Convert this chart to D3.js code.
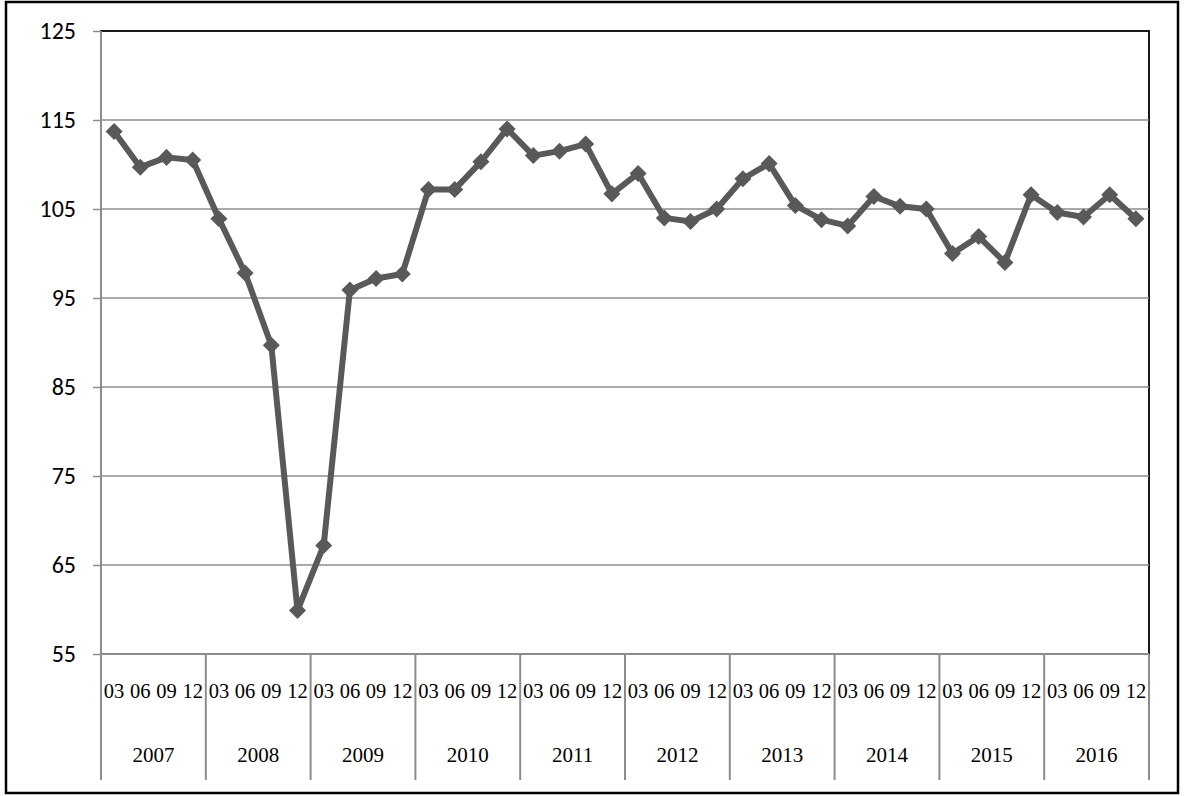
<!DOCTYPE html>
<html>
<head>
<meta charset="utf-8">
<script src="https://cdn.jsdelivr.net/npm/d3@7"></script>
<style>
  html, body { margin: 0; padding: 0; background: #fff; }
  svg { display: block; }
</style>
</head>
<body>
<svg id="chart" width="1190" height="796"></svg>
<script>
const years = ["2007","2008","2009","2010","2011","2012","2013","2014","2015","2016"];
const months = ["03","06","09","12"];
const values = [
  113.7, 109.7, 110.8, 110.5,
  103.9, 97.8, 89.7, 59.9,
  67.2, 95.9, 97.2, 97.7,
  107.2, 107.2, 110.3, 114.0,
  111.0, 111.5, 112.3, 106.7,
  109.0, 104.0, 103.6, 105.0,
  108.4, 110.1, 105.4, 103.8,
  103.1, 106.4, 105.3, 105.0,
  100.0, 101.9, 99.0, 106.6,
  104.6, 104.1, 106.6, 103.9
];
const yTicks = [55, 65, 75, 85, 95, 105, 115, 125];

const svg = d3.select("#chart");
const L = 101, R = 1149, T = 31, B = 654;

const categories = [];
years.forEach(y => months.forEach(m => categories.push(y + "-" + m)));
const data = categories.map((c, i) => ({ key: c, month: c.split("-")[1], year: c.split("-")[0], v: values[i] }));

const x = d3.scaleBand().domain(categories).range([L, R]).padding(0);
const xYear = d3.scaleBand().domain(years).range([L, R]).padding(0);
const y = d3.scaleLinear().domain([55, 125]).range([B, T]);

// outer frame
svg.append("rect").attr("x", 6).attr("y", 2).attr("width", 1172).attr("height", 791)
  .attr("fill", "#fff").attr("stroke", "#000").attr("stroke-width", 2.5);

// plot area border
svg.append("rect").attr("x", L).attr("y", T).attr("width", R - L).attr("height", B - T)
  .attr("fill", "none").attr("stroke", "#000").attr("stroke-width", 1.8);

// gridlines
svg.append("g").selectAll("line").data(yTicks.filter(t => t !== 125 && t !== 55)).join("line")
  .attr("x1", L).attr("x2", R).attr("y1", d => y(d)).attr("y2", d => y(d))
  .attr("stroke", "#8c8c8c").attr("stroke-width", 1.5);

// y axis
const yAxis = d3.axisLeft(y).tickValues(yTicks).tickSize(8).tickPadding(17).tickFormat(d3.format("d"));
const gy = svg.append("g").attr("transform", `translate(${L},0)`).call(yAxis);
gy.select(".domain").remove();
gy.selectAll(".tick line").attr("stroke", "#8c8c8c").attr("stroke-width", 1.5);
gy.selectAll(".tick text").attr("font-family", "Carlito, 'Liberation Sans', Arial, sans-serif")
  .attr("font-size", 24).attr("fill", "#000");
svg.append("line").attr("x1", L).attr("x2", L).attr("y1", T).attr("y2", 780)
  .attr("stroke", "#8c8c8c").attr("stroke-width", 2);

// x axis baseline
svg.append("line").attr("x1", L).attr("x2", R).attr("y1", B).attr("y2", B)
  .attr("stroke", "#8c8c8c").attr("stroke-width", 2);

// year dividers
svg.append("g").selectAll("line").data(years.slice(1).concat(["end"])).join("line")
  .attr("x1", d => d === "end" ? R : xYear(d)).attr("x2", d => d === "end" ? R : xYear(d))
  .attr("y1", B).attr("y2", 780)
  .attr("stroke", "#8c8c8c").attr("stroke-width", 2);

// month labels
svg.append("g").selectAll("text").data(data).join("text")
  .attr("x", d => x(d.key) + x.bandwidth() / 2).attr("y", 698)
  .attr("text-anchor", "middle").attr("font-family", "'Liberation Serif', 'Times New Roman', serif")
  .attr("font-size", 20.5).attr("fill", "#000").text(d => d.month);

// year labels
svg.append("g").selectAll("text").data(years).join("text")
  .attr("x", d => xYear(d) + xYear.bandwidth() / 2).attr("y", 762)
  .attr("text-anchor", "middle").attr("font-family", "'Liberation Serif', 'Times New Roman', serif")
  .attr("font-size", 21).attr("fill", "#000").text(d => d);

// line
const line = d3.line().x(d => x(d.key) + x.bandwidth() / 2).y(d => y(d.v));
svg.append("path").datum(data).attr("d", line)
  .attr("fill", "none").attr("stroke", "#595959").attr("stroke-width", 6).attr("stroke-linejoin", "round");

// diamond markers
const sym = d3.symbol().type(d3.symbolDiamond2).size(185);
svg.append("g").selectAll("path").data(data).join("path")
  .attr("transform", d => `translate(${x(d.key) + x.bandwidth() / 2},${y(d.v)})`)
  .attr("d", sym).attr("fill", "#595959");
</script>
</body>
</html>
